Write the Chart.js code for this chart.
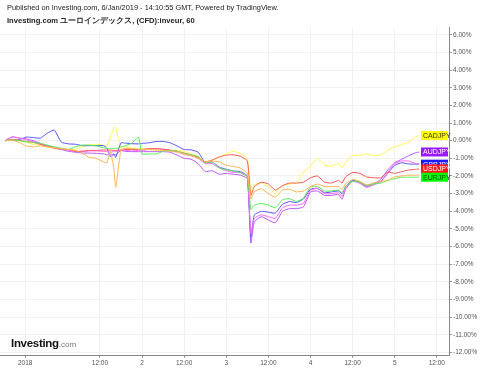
<!DOCTYPE html>
<html>
<head>
<meta charset="utf-8">
<script src="https://cdn.jsdelivr.net/npm/chart.js@4"></script>
<style>
  body { margin: 0; background: #fff; }
  #wrap { position: relative; width: 480px; height: 369px; }
  #chart { position: absolute; left: 0; top: 0; }
  .txt { position: absolute; font-family: "Liberation Sans", Arial, sans-serif; white-space: nowrap; color: #222; }
  #pub { left: 7px; top: 3px; font-size: 7.4px; }
  #ttl { left: 7px; top: 16px; font-size: 7.6px; font-weight: bold; }
  #logo { left: 11px; top: 337px; font-size: 11.5px; font-weight: bold; color: #111; letter-spacing: -0.3px; }
  #logo span { font-size: 8px; font-weight: normal; color: #777; letter-spacing: 0; }
</style>
</head>
<body>
<div id="wrap">
  <canvas id="chart" width="480" height="369"></canvas>
  <div class="txt" id="pub">Published on Investing.com, 6/Jan/2019 - 14:10:55 GMT, Powered by TradingView.</div>
  <div class="txt" id="ttl">Investing.com ユーロインデックス, (CFD):inveur, 60</div>
  <div class="txt" id="logo">Investing<span>.com</span></div>
</div>
<script>
// hours counted from Jan 2 00:00
const hours = [-39, -37, -35, -33, -31, -29, -27, -25, -23, -21, -19, -17, -15, -13, -11, -10, -9, -8, -7.5, -6, -5, -3, -1, 0,
  2, 4, 6, 8, 10, 12, 14, 16, 18, 20, 22, 24, 26, 28, 30, 31, 32, 34, 36, 38, 40, 42, 44, 46, 48, 50, 52, 54, 56, 57, 58,
  60, 62, 64, 66, 68, 70, 72, 74, 76, 78, 79];

const cadjpy = [0, 0.05, 0, -0.1, -0.2, -0.25, -0.35, -0.45, -0.5, -0.55, -0.5, -0.35, -0.25, -0.2, -0.25, -0.35, 0.2, 0.74, 0.74, -0.35, -0.35, -0.4, -0.45, -0.45,
  -0.5, -0.55, -0.5, -0.55, -0.55, -0.6, -0.75, -0.9, -1.2, -1.1, -0.95, -0.75, -0.6, -0.72, -1.0, -2.9, -2.5, -2.4, -2.6, -3.0, -2.55, -2.45, -2.4, -1.8, -1.45, -1.0, -1.38, -1.45, -1.3, -1.55, -1.25,
  -0.82, -0.85, -0.75, -0.85, -0.8, -0.55, -0.35, -0.22, -0.08, 0.22, 0.3];
const audjpy = [0, 0.22, 0.15, 0.1, 0, -0.15, -0.3, -0.42, -0.5, -0.6, -0.65, -0.7, -0.7, -0.72, -0.75, -0.8, -0.8, -0.8, -0.8, -0.55, -0.6, -0.62, -0.62, -0.62,
  -0.62, -0.62, -0.62, -0.65, -0.82, -1.0, -1.05, -1.3, -1.75, -1.7, -1.9, -1.85, -1.9, -1.95, -2.15, -5.8, -4.6, -4.3, -4.5, -4.65, -4.0, -3.85, -3.85, -3.75, -2.9, -2.85, -3.1, -3.1, -3.05, -3.32, -2.75,
  -2.25, -2.4, -2.6, -2.45, -2.2, -1.66, -1.25, -1.05, -0.85, -0.68, -0.64];
const gbpjpy = [0, 0.03, 0.05, 0.2, 0.18, 0.14, 0.42, 0.6, -0.08, -0.18, -0.2, -0.28, -0.28, -0.28, -0.28, -0.43, -0.9, -0.75, -0.95, -0.12, -0.13, -0.17, -0.18, -0.15,
  -0.12, -0.05, -0.04, -0.12, -0.3, -0.5, -0.52, -0.65, -1.25, -1.2, -1.5, -1.62, -1.72, -1.75, -2.0, -5.45, -4.2, -4.0, -4.05, -4.1, -3.6, -3.45, -3.5, -3.3, -2.75, -2.7, -2.95, -2.9, -2.85, -3.0, -2.6,
  -2.25, -2.35, -2.55, -2.45, -2.3, -1.85, -1.4, -1.25, -1.32, -1.33, -1.33];
const usdjpy = [0, 0.08, 0.02, -0.05, -0.1, -0.2, -0.3, -0.38, -0.45, -0.5, -0.6, -0.6, -0.55, -0.55, -0.53, -0.53, -0.53, -0.55, -0.55, -0.53, -0.5, -0.5, -0.5, -0.5,
  -0.45, -0.45, -0.48, -0.53, -0.6, -0.7, -0.8, -0.95, -1.2, -1.1, -0.92, -0.82, -0.8, -0.88, -1.15, -3.1, -2.6, -2.35, -2.45, -2.8, -2.55, -2.4, -2.4, -2.35, -2.1, -2.0, -2.35, -2.4, -2.25, -2.4, -2.05,
  -1.8, -1.85, -2.05, -2.1, -2.1, -1.78, -1.85, -1.75, -1.66, -1.62, -1.6];
const eurjpy = [0, 0.05, 0, -0.05, -0.1, -0.15, -0.25, -0.35, -0.42, -0.5, -0.35, -0.25, -0.25, -0.3, -0.4, -0.43, -0.45, -0.45, -0.45, -0.35, -0.3, -0.15, 0.2, -0.75,
  -0.75, -0.75, -0.6, -0.55, -0.6, -0.72, -0.8, -0.9, -1.25, -1.2, -1.55, -1.65, -1.72, -1.82, -2.05, -3.9, -3.65, -3.55, -3.65, -3.8, -3.35, -3.28, -3.45, -3.25, -2.6, -2.6, -2.85, -2.85, -2.8, -2.95, -2.6,
  -2.3, -2.35, -2.55, -2.45, -2.4, -2.25, -2.15, -2.07, -2.07, -2.07, -2.07];
const chfjpy = [0, 0.02, -0.1, -0.3, -0.35, -0.3, -0.35, -0.4, -0.45, -0.5, -0.55, -0.7, -0.95, -1.0, -1.2, -1.26, -0.6, -1.6, -2.64, -0.5, -0.45, -0.45, -0.48, -0.5,
  -0.5, -0.52, -0.55, -0.6, -0.65, -0.75, -0.85, -1.0, -1.2, -1.15, -1.2, -1.4, -1.45, -1.55, -1.85, -3.3, -2.9, -2.72, -3.0, -3.2, -2.8, -2.75, -2.9, -2.85, -2.6, -2.45, -2.6, -2.6, -2.6, -2.75, -2.45,
  -2.2, -2.3, -2.5, -2.4, -2.3, -2.25, -2.05, -2.0, -1.95, -1.95, -1.95];
const nzdjpy = [0, 0.2, 0.15, 0.05, -0.05, -0.2, -0.3, -0.4, -0.48, -0.55, -0.62, -0.6, -0.58, -0.58, -0.6, -0.62, -0.65, -0.62, -0.62, -0.55, -0.55, -0.58, -0.55, -0.55,
  -0.5, -0.45, -0.5, -0.55, -0.62, -0.78, -0.85, -1.0, -1.3, -1.3, -1.55, -1.7, -1.8, -1.8, -2.05, -5.3, -4.4, -4.2, -4.3, -4.4, -3.8, -3.65, -3.65, -3.55, -2.8, -2.7, -3.0, -3.0, -2.95, -3.15, -2.7,
  -2.3, -2.4, -2.65, -2.5, -2.35, -1.8, -1.3, -1.15, -1.15, -1.3, -1.3];

const xTicks = [-33.3, -12, 0, 12, 24, 36, 48, 60, 72, 84];
const xTickLabels = ['2018', '12:00', '2', '12:00', '3', '12:00', '4', '12:00', '5', '12:00'];
const yTicks = [6, 5, 4, 3, 2, 1, 0, -1, -2, -3, -4, -5, -6, -7, -8, -9, -10, -11, -12];

const series = [
  { name: 'CHFJPY', data: chfjpy, color: '#ffb550' },
  { name: 'EURJPY', data: eurjpy, color: '#55ee55', tag: '#00ff00', text: '#114411' },
  { name: 'USDJPY', data: usdjpy, color: '#ff5555', tag: '#ff1a1a', text: '#ffffff' },
  { name: 'NZDJPY', data: nzdjpy, color: '#ff66ff' },
  { name: 'GBPJPY', data: gbpjpy, color: '#5555ff', tag: '#1a1aff', text: '#ffffff' },
  { name: 'AUDJPY', data: audjpy, color: '#b855ff', tag: '#9a1aff', text: '#ffffff' },
  { name: 'CADJPY', data: cadjpy, color: '#ffff50', tag: '#ffff00', text: '#333300' }
];
const tagOrder = ['CADJPY', 'AUDJPY', 'GBPJPY', 'USDJPY', 'EURJPY'];

const font = "'Liberation Sans', Arial, sans-serif";

const endTags = {
  id: 'endTags',
  afterDatasetsDraw(chart) {
    const ctx = chart.ctx;
    const y = chart.scales.y;
    ctx.save();
    ctx.font = '7px ' + font;
    ctx.textBaseline = 'middle';
    tagOrder.forEach(name => {
      const s = series.find(d => d.name === name);
      const py = y.getPixelForValue(s.data[s.data.length - 1]);
      ctx.fillStyle = s.tag;
      ctx.fillRect(421, py - 4.5, 27, 9);
      ctx.fillStyle = s.text;
      ctx.fillText(name, 423, py + 0.5);
    });
    ctx.restore();
  }
};

new Chart(document.getElementById('chart'), {
  type: 'line',
  data: {
    datasets: series.map(s => ({
      label: s.name,
      data: hours.map((h, i) => ({ x: h, y: s.data[i] })),
      borderColor: s.color,
      borderWidth: 1,
      pointRadius: 0,
      tension: 0.15,
      fill: false
    }))
  },
  options: {
    responsive: false,
    animation: false,
    layout: { padding: { top: 27, left: 0, right: 0, bottom: 0 } },
    plugins: { legend: { display: false }, tooltip: { enabled: false } },
    scales: {
      x: {
        type: 'linear',
        min: -40.46,
        max: 87.46,
        afterBuildTicks: s => { s.ticks = xTicks.map(v => ({ value: v })); },
        afterFit: s => { s.height = 14; },
        grid: { color: '#f2f2f2', tickColor: '#999', tickLength: 3 },
        border: { color: '#888' },
        ticks: {
          autoSkip: false, maxRotation: 0, padding: 1, color: '#555',
          font: { size: 6.5, family: font },
          callback: (v, i) => xTickLabels[i]
        }
      },
      y: {
        position: 'right',
        min: -12.14,
        max: 6.44,
        afterBuildTicks: s => { s.ticks = yTicks.map(v => ({ value: v })); },
        afterFit: s => { s.width = 31; },
        grid: { color: '#f2f2f2', tickColor: '#999', tickLength: 3 },
        border: { color: '#888' },
        ticks: {
          padding: 1, color: '#555',
          font: { size: 6.5, family: font },
          callback: v => v.toFixed(2) + '%'
        }
      }
    }
  },
  plugins: [endTags]
});
</script>
</body>
</html>
